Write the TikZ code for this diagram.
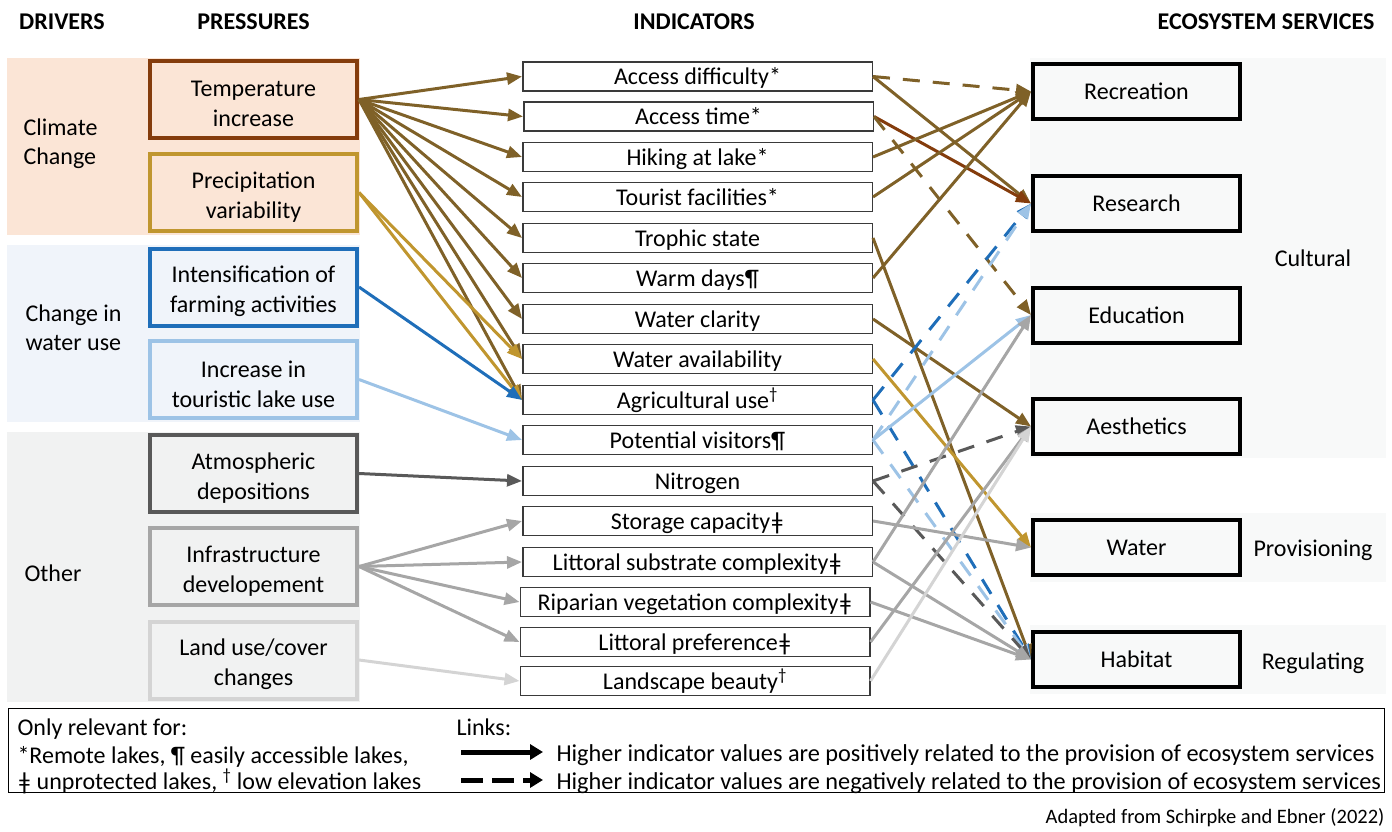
\documentclass[tikz,border=0pt]{standalone}
\usepackage{fontspec}
\setmainfont{Carlito}
\usetikzlibrary{arrows.meta}
\definecolor{bgpeach}{HTML}{FBE5D6}
\definecolor{bgblue}{HTML}{F0F4FA}
\definecolor{bggray}{HTML}{F1F2F2}
\definecolor{bgsvc}{HTML}{F8F9F9}
\definecolor{ctemp}{HTML}{843C0C}
\definecolor{cbrown}{HTML}{7F6128}
\definecolor{cprec}{HTML}{C0962F}
\definecolor{cblue}{HTML}{1F6EB9}
\definecolor{clblue}{HTML}{9DC3E6}
\definecolor{cdgray}{HTML}{595959}
\definecolor{cgray}{HTML}{A6A6A6}
\definecolor{clgray}{HTML}{D4D4D4}
\definecolor{cindb}{HTML}{3A3A3A}
\begin{document}
\begin{tikzpicture}[x=1pt,y=-1pt,
  every node/.style={font=\fontsize{24}{29}\selectfont},
  sl/.style={text height=17.5pt, text depth=1pt},
  hdr/.style={sl, font=\fontsize{24}{29}\selectfont\bfseries},
  press/.style={draw, line width=4pt, minimum width=207pt, minimum height=77pt, inner sep=0pt},
  plabel/.style={align=center, yshift=-4.5pt, font=\fontsize{24}{30}\selectfont},
  ind/.style={sl, draw=cindb, line width=1.5pt, fill=white, minimum width=349.5pt, minimum height=29pt, inner sep=0pt},
  svc/.style={sl, draw=black, line width=4pt, fill=bgsvc, minimum width=207pt, minimum height=55pt, inner sep=0pt},
  conn/.style={line width=3pt, -{Triangle[length=15pt,width=12pt]}},
  neg/.style={dash pattern=on 17pt off 13pt},
  lgarrow/.style={line width=5pt, -{Triangle[length=13pt,width=15pt]}}
]
\useasboundingbox (0,0) rectangle (1392,832);
% backgrounds
\fill[bgpeach] (7,58) rectangle (360,235);
\fill[bgblue] (7,245) rectangle (360,422);
\fill[bggray] (7,432) rectangle (360,702);
\fill[bgsvc] (1030,58) rectangle (1386,458);
\fill[bgsvc] (1030,513) rectangle (1386,582);
\fill[bgsvc] (1030,625) rectangle (1386,694);
% headers
\node[hdr] (h1) at (62,21) {DRIVERS};
\node[hdr] (h2) at (253.5,21) {PRESSURES};
\node[hdr] (h3) at (694,21) {INDICATORS};
\node[hdr] (h4) at (1266,21) {ECOSYSTEM SERVICES};
% drivers
\node[anchor=west, align=left] (d1) at (20,144) {Climate\\Change};
\node[anchor=west, align=left] (d2) at (22,328) {Change in\\water use};
\node[sl, anchor=west] (d3) at (21,573) {Other};
% pressures
\node[press, draw=ctemp, fill=bgpeach, label={[plabel]center:Temperature\\increase}] (p1) at (253.5,99.5) {};
\node[press, draw=cprec, fill=bgpeach, label={[plabel]center:Precipitation\\variability}] (p2) at (253.5,192.5) {};
\node[press, draw=cblue, fill=bgblue, label={[plabel]center:Intensification of\\farming activities}] (p3) at (253.5,287) {};
\node[press, draw=clblue, fill=bgblue, label={[plabel]center:Increase in\\touristic lake use}] (p4) at (253.5,379.5) {};
\node[press, draw=cdgray, fill=bggray, label={[plabel]center:Atmospheric\\depositions}] (p5) at (253.5,473.5) {};
\node[press, draw=cgray, fill=bggray, label={[plabel]center:Infrastructure\\developement}] (p6) at (253.5,566.5) {};
\node[press, draw=clgray, fill=bggray, label={[plabel]center:Land use/cover\\changes}] (p7) at (253.5,660) {};
% indicators
\node[ind] (i1) at (697.5,76.5) {Access difficulty*};
\node[ind] (i2) at (698.5,116.5) {Access time*};
\node[ind] (i3) at (697.5,157) {Hiking at lake*};
\node[ind] (i4) at (697.5,197) {Tourist facilities*};
\node[ind] (i5) at (697.5,238) {Trophic state};
\node[ind] (i6) at (697.5,278) {Warm days¶};
\node[ind] (i7) at (697.5,319) {Water clarity};
\node[ind] (i8) at (697.5,359) {Water availability};
\node[ind] (i9) at (697.5,400) {Agricultural use\textsuperscript{†}};
\node[ind] (i10) at (697.5,440) {Potential visitors¶};
\node[ind] (i11) at (697.5,481) {Nitrogen};
\node[ind] (i12) at (697.5,521) {Storage capacityǂ};
\node[ind] (i13) at (697.5,562) {Littoral substrate complexityǂ};
\node[ind] (i14) at (695,602) {Riparian vegetation complexityǂ};
\node[ind] (i15) at (695,642) {Littoral preferenceǂ};
\node[ind] (i16) at (695,681) {Landscape beauty\textsuperscript{†}};
% services
\node[svc] (s1) at (1136.5,91.5) {Recreation};
\node[svc] (s2) at (1136.5,203.5) {Research};
\node[svc] (s3) at (1136.5,315) {Education};
\node[svc] (s4) at (1136.5,426.5) {Aesthetics};
\node[svc] (s5) at (1136.5,547.5) {Water};
\node[svc] (s6) at (1136.5,659.5) {Habitat};
\node[sl] (c1) at (1313,258) {Cultural};
\node[sl] (c2) at (1313,548) {Provisioning};
\node[sl] (c3) at (1313,661) {Regulating};
% pressures -> indicators
\foreach \i in {1,...,9} {\draw[conn,cbrown] (p1.east) -- (i\i.west);}
\draw[conn,cprec] (p2.east) -- (i8.west);
\draw[conn,cprec] (p2.east) -- (i9.west);
\draw[conn,cblue] (p3.east) -- (i9.west);
\draw[conn,clblue] (p4.east) -- (i10.west);
\draw[conn,cdgray] (p5.east) -- (i11.west);
\draw[conn,cgray] (p6.east) -- (i12.west);
\draw[conn,cgray] (p6.east) -- (i13.west);
\draw[conn,cgray] (p6.east) -- (i14.west);
\draw[conn,cgray] (p6.east) -- (i15.west);
\draw[conn,clgray] (p7.east) -- (i16.west);
% indicators -> services
\draw[conn,cbrown,neg] (i1.east) -- (s1.west);
\draw[conn,cbrown] (i1.east) -- (s2.west);
\draw[conn,ctemp] (i2.east) -- (s2.west);
\draw[conn,cbrown,neg] (i2.east) -- (s3.west);
\draw[conn,cbrown] (i3.east) -- (s1.west);
\draw[conn,cbrown] (i4.east) -- (s1.west);
\draw[conn,cbrown] (i5.east) -- (s6.west);
\draw[conn,cbrown] (i6.east) -- (s1.west);
\draw[conn,cbrown] (i7.east) -- (s4.west);
\draw[conn,cprec] (i8.east) -- (s5.west);
\draw[conn,cblue,neg] (i9.east) -- (s2.west);
\draw[conn,cblue,neg] (i9.east) -- (s6.west);
\draw[conn,clblue,neg] (i10.east) -- (s2.west);
\draw[conn,clblue] (i10.east) -- (s3.west);
\draw[conn,clblue,neg] (i10.east) -- (s6.west);
\draw[conn,cdgray,neg] (i11.east) -- (s4.west);
\draw[conn,cdgray,neg] (i11.east) -- (s6.west);
\draw[conn,cgray] (i12.east) -- (s5.west);
\draw[conn,cgray] (i13.east) -- (s3.west);
\draw[conn,cgray] (i13.east) -- (s6.west);
\draw[conn,cgray] (i14.east) -- (s6.west);
\draw[conn,cgray] (i15.east) -- (s4.west);
\draw[conn,clgray] (i16.east) -- (s4.west);
% legend
\node[draw=black, line width=1.5pt, minimum width=1376pt, minimum height=84pt, inner sep=0pt] (lg) at (696.5,750.5) {};
\node[sl, anchor=west] (l1) at (14,727) {Only relevant for:};
\node[sl, anchor=west] (l2) at (14,755) {*Remote lakes, ¶ easily accessible lakes,};
\node[sl, anchor=west] (l3) at (14,781) {ǂ unprotected lakes, \textsuperscript{†} low elevation lakes};
\node[sl, anchor=west] (l4) at (453,727) {Links:};
\coordinate (la1) at (461,752);
\coordinate (lb1) at (543,752);
\coordinate (la2) at (461,780);
\coordinate (lb2) at (543,780);
\draw[lgarrow] (la1) -- (lb1);
\draw[lgarrow, dash pattern=on 22pt off 9pt] (la2) -- (lb2);
\node[sl, anchor=west, font=\fontsize{24.3}{29}\selectfont] (l5) at (553,753) {Higher indicator values are positively related to the provision of ecosystem services};
\node[sl, anchor=west, font=\fontsize{24.3}{29}\selectfont] (l6) at (553,781) {Higher indicator values are negatively related to the provision of ecosystem services};
\node[anchor=east, font=\fontsize{20.5}{24}\selectfont] (ft) at (1388,818) {Adapted from Schirpke and Ebner (2022)};
\end{tikzpicture}
\end{document}
